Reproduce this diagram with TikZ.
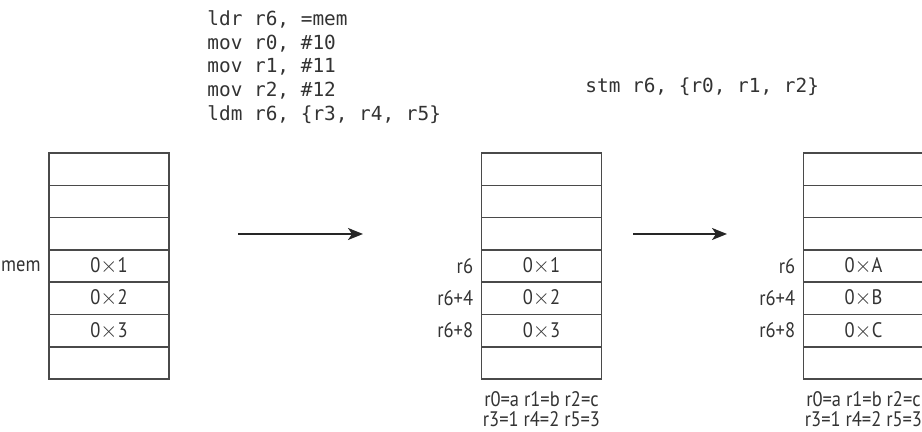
\documentclass[tikz,border=0pt]{standalone}
\usepackage{fontspec}
\setsansfont[FakeStretch=0.88]{PT Sans}
\setmonofont{DejaVu Sans Mono}
\usepackage{tikz}
\usepackage{xcolor}
\usetikzlibrary{positioning, arrows.meta}

\definecolor{linegray}{HTML}{4A4A4A}
\definecolor{textgray}{HTML}{333333}

\begin{document}
\begin{tikzpicture} [
        x = 0.5pt, y = -0.5pt,
        cell/.style = { draw = linegray, line width = 0.75pt, minimum width = 60pt,
                minimum height = 16.15pt, inner sep = 0, outer sep = 0,
                text = textgray, font = \sffamily\fontsize{10.5}{10}\selectfont },
        addr/.style = { inner sep = 0, text = textgray,
                font = \sffamily\fontsize{10.5}{10}\selectfont },
        regs/.style = { inner sep = 0, align = center, text = textgray,
                font = \sffamily\fontsize{10.5}{10}\selectfont },
        code/.style = { inner sep = 0, align = left, text = textgray,
                font = \ttfamily\fontsize{9.7}{10.9}\selectfont },
        step arrow/.style = { draw = black!85, line width = 1pt,
                -{Stealth[length = 7.5pt, width = 6pt, inset = 2pt]} }
        ]
        \useasboundingbox (0,0) rectangle (922,432);

        % instructions
        \node [code, anchor = north west] (ldmcode) at (207,10)
                {ldr r6, =mem\\[1pt]mov r0, \#10\\[1pt]mov r1, \#11\\[1pt]mov r2, \#12\\[1pt]ldm r6, \{r3, r4, r5\}};
        \node [code, anchor = base west] (stmcode) at (585,93) {stm r6, \{r0, r1, r2\}};

        % memory before
        \node [cell] (m1) at (109,169.15) {};
        \node [cell, below = 0pt of m1] (m2) {};
        \node [cell, below = 0pt of m2] (m3) {};
        \node [cell, below = 0pt of m3] (m4) {0${\times}$1};
        \node [cell, below = 0pt of m4] (m5) {0${\times}$2};
        \node [cell, below = 0pt of m5] (m6) {0${\times}$3};
        \node [cell, below = 0pt of m6] (m7) {};
        \node [addr, left = 4pt of m4] (memlbl) {mem};

        % after ldm
        \node [cell] (l1) at (541.5,169.15) {};
        \node [cell, below = 0pt of l1] (l2) {};
        \node [cell, below = 0pt of l2] (l3) {};
        \node [cell, below = 0pt of l3] (l4) {0${\times}$1};
        \node [cell, below = 0pt of l4] (l5) {0${\times}$2};
        \node [cell, below = 0pt of l5] (l6) {0${\times}$3};
        \node [cell, below = 0pt of l6] (l7) {};
        \node [addr, left = 4pt of l4] (lr6) {r6};
        \node [addr, left = 4pt of l5] (lr64) {r6+4};
        \node [addr, left = 4pt of l6] (lr68) {r6+8};
        \node [regs, below = 6pt of l7] (lregs) {r0=a r1=b r2=c\\r3=1 r4=2 r5=3};

        % after stm
        \node [cell] (s1) at (863.5,169.15) {};
        \node [cell, below = 0pt of s1] (s2) {};
        \node [cell, below = 0pt of s2] (s3) {};
        \node [cell, below = 0pt of s3] (s4) {0${\times}$A};
        \node [cell, below = 0pt of s4] (s5) {0${\times}$B};
        \node [cell, below = 0pt of s5] (s6) {0${\times}$C};
        \node [cell, below = 0pt of s6] (s7) {};
        \node [addr, left = 4pt of s4] (sr6) {r6};
        \node [addr, left = 4pt of s5] (sr64) {r6+4};
        \node [addr, left = 4pt of s6] (sr68) {r6+8};
        \node [regs, below = 6pt of s7] (sregs) {r0=a r1=b r2=c\\r3=1 r4=2 r5=3};

        % steps
        \coordinate (ldmfrom) at (238,234);
        \coordinate (ldmto) at (363,234);
        \coordinate (stmfrom) at (633,234);
        \coordinate (stmto) at (727,234);
        \draw [step arrow] (ldmfrom) -- (ldmto);
        \draw [step arrow] (stmfrom) -- (stmto);
\end{tikzpicture}
\end{document}
